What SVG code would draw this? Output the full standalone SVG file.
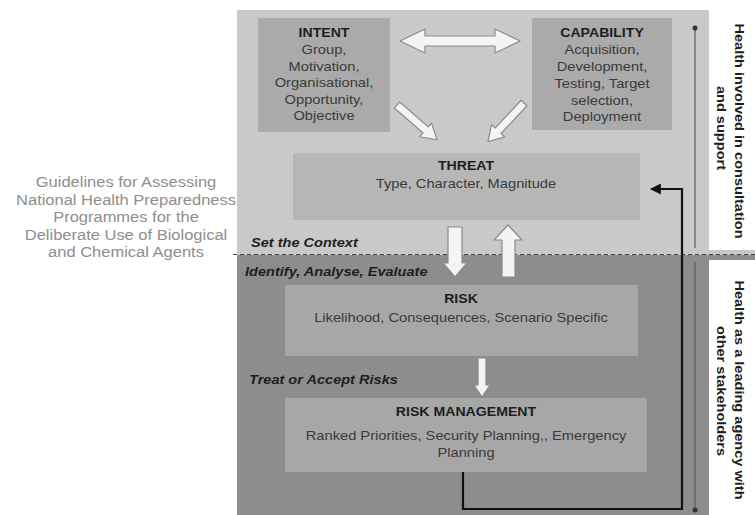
<svg xmlns="http://www.w3.org/2000/svg" width="755" height="515" viewBox="0 0 755 515">
<defs>
<style>
text{font-family:"Liberation Sans",Arial,sans-serif;}
.h{font-size:12.5px;font-weight:bold;fill:#1e1e1e;text-anchor:middle;}
.b{font-size:13px;fill:#3a3a3a;text-anchor:middle;}
.st{font-size:13px;font-weight:bold;font-style:italic;fill:#1e1e1e;}
.side{font-size:13px;font-weight:bold;fill:#1e1e1e;text-anchor:middle;}
.guide{font-size:15px;fill:#8e8e8e;text-anchor:middle;}
.blk{fill:#f4f4f4;stroke:#8a8a8a;stroke-width:1.2;stroke-linejoin:round;}
.thin{stroke:#5a5a5a;stroke-width:1.2;fill:none;}
</style>
<marker id="dot" viewBox="0 0 6 6" refX="3" refY="3" markerWidth="5" markerHeight="5" orient="auto">
<circle cx="3" cy="3" r="2.5" fill="#333"/>
</marker>
<marker id="ah" viewBox="0 0 10 10" refX="9" refY="5" markerWidth="5" markerHeight="5" orient="auto">
<path d="M0,0 L10,5 L0,10 Z" fill="#111"/>
</marker>
</defs>
<rect width="755" height="515" fill="#ffffff"/>
<g id="panels">
<rect x="237" y="10" width="518" height="245" fill="#c9c9c9"/>
<rect x="237" y="255" width="518" height="260" fill="#8d8d8d"/>
<rect x="709" y="10" width="46" height="240" fill="#ffffff"/>
<rect x="709" y="260" width="46" height="255" fill="#ffffff"/>
<line x1="233" y1="254.5" x2="755" y2="254.5" stroke="#444" stroke-width="1.2" stroke-dasharray="4,3"/>
</g>
<g id="guidelines">
<text class="guide" transform="translate(126,187) scale(1.1,1)">Guidelines for Assessing</text>
<text class="guide" transform="translate(126,204.5) scale(1.1,1)">National Health Preparedness</text>
<text class="guide" transform="translate(126,222) scale(1.1,1)">Programmes for the</text>
<text class="guide" transform="translate(126,239.5) scale(1.1,1)">Deliberate Use of Biological</text>
<text class="guide" transform="translate(126,257) scale(1.1,1)">and Chemical Agents</text>
</g>
<g id="intent">
<rect x="258" y="18" width="132" height="114" fill="#aaaaaa"/>
<text class="h" transform="translate(324,37) scale(1.13,1)">INTENT</text>
<text class="b" transform="translate(324,54) scale(1.13,1)">Group,</text>
<text class="b" transform="translate(324,70.5) scale(1.13,1)">Motivation,</text>
<text class="b" transform="translate(324,87) scale(1.13,1)">Organisational,</text>
<text class="b" transform="translate(324,103.5) scale(1.13,1)">Opportunity,</text>
<text class="b" transform="translate(324,120) scale(1.13,1)">Objective</text>
</g>
<g id="capability">
<rect x="532" y="18" width="140" height="112" fill="#aaaaaa"/>
<text class="h" transform="translate(602,37) scale(1.13,1)">CAPABILITY</text>
<text class="b" transform="translate(602,54) scale(1.13,1)">Acquisition,</text>
<text class="b" transform="translate(602,71) scale(1.13,1)">Development,</text>
<text class="b" transform="translate(602,88) scale(1.13,1)">Testing, Target</text>
<text class="b" transform="translate(602,104.5) scale(1.13,1)">selection,</text>
<text class="b" transform="translate(602,121) scale(1.13,1)">Deployment</text>
</g>
<g id="threat">
<rect x="293" y="153" width="347" height="67" fill="#b6b6b6"/>
<text class="h" transform="translate(466,170) scale(1.13,1)">THREAT</text>
<text class="b" transform="translate(466,188) scale(1.13,1)">Type, Character, Magnitude</text>
</g>
<g id="risk">
<rect x="285" y="285" width="353" height="71" fill="#a7a7a7"/>
<text class="h" transform="translate(461,303) scale(1.13,1)">RISK</text>
<text class="b" transform="translate(461,322) scale(1.13,1)">Likelihood, Consequences, Scenario Specific</text>
</g>
<g id="risk-management">
<rect x="285" y="398" width="362" height="74" fill="#a7a7a7"/>
<text class="h" transform="translate(466,416) scale(1.13,1)">RISK MANAGEMENT</text>
<text class="b" transform="translate(466,440) scale(1.13,1)">Ranked Priorities, Security Planning,, Emergency</text>
<text class="b" transform="translate(466,457) scale(1.13,1)">Planning</text>
</g>
<g id="stage-labels">
<text class="st" transform="translate(251,247) scale(1.12,1)">Set the Context</text>
<text class="st" transform="translate(245,276) scale(1.12,1)">Identify, Analyse, Evaluate</text>
<text class="st" transform="translate(249,384) scale(1.12,1)">Treat or Accept Risks</text>
</g>
<g id="side-top">
<text class="side" transform="translate(735,131) rotate(90) scale(1.12,1)">Health involved in consultation</text>
<text class="side" transform="translate(717,128) rotate(90) scale(1.12,1)">and support</text>
</g>
<g id="side-bottom">
<text class="side" transform="translate(735,390) rotate(90) scale(1.12,1)">Health as a leading agency with</text>
<text class="side" transform="translate(717,391) rotate(90) scale(1.12,1)">other stakeholders</text>
</g>
<g id="connectors">
<path class="blk" d="M400,41 L425,29 L425,36 L495,36 L495,29 L520,41 L495,53 L495,46 L425,46 L425,53 Z"/>
<path class="blk" transform="translate(397,105) rotate(41)" d="M0,-4 L38,-4 L38,-9 L53,0 L38,9 L38,4 L0,4 Z"/>
<path class="blk" transform="translate(524,103) rotate(133)" d="M0,-4 L38,-4 L38,-9 L53,0 L38,9 L38,4 L0,4 Z"/>
<path class="blk" d="M448,227 L462,227 L462,263 L467,263 L455,277 L443,263 L448,263 Z"/>
<path class="blk" d="M502,277 L515,277 L515,240 L522,240 L508,225 L494,240 L502,240 Z"/>
<path class="blk" d="M478,358 L486,358 L486,385 L490,385 L482,397 L474,385 L478,385 Z"/>
<line class="thin" x1="695" y1="248" x2="695" y2="28" marker-end="url(#dot)"/>
<line class="thin" x1="695" y1="262" x2="695" y2="510" marker-end="url(#dot)"/>
<path d="M463,472 L463,509 L682,509 L682,189 L651,189" fill="none" stroke="#111" stroke-width="2.2" marker-end="url(#ah)"/>
</g>
</svg>
